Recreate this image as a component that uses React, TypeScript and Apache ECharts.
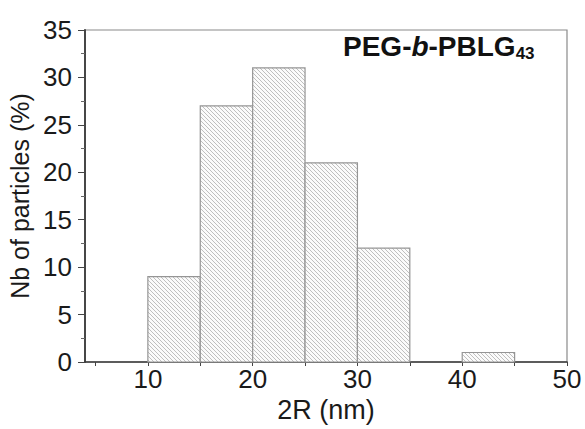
import React, { useEffect, useRef } from "react";
import * as echarts from "echarts";

const binStarts = [10, 15, 20, 25, 30, 40];
const binWidth = 5;
const percents = [9, 27, 31, 21, 12, 1];
const xTickValues = [10, 20, 30, 40, 50];
const xMinorValues = [5, 15, 25, 35, 45];

function makeHatch(): HTMLCanvasElement {
  const c = document.createElement("canvas");
  c.width = 4;
  c.height = 4;
  const ctx = c.getContext("2d")!;
  ctx.fillStyle = "#fbfbfb";
  ctx.fillRect(0, 0, 4, 4);
  ctx.strokeStyle = "#b8b8b8";
  ctx.lineWidth = 0.9;
  ctx.beginPath();
  ctx.moveTo(-1, -1);
  ctx.lineTo(5, 5);
  ctx.moveTo(-1, 3);
  ctx.lineTo(1, 5);
  ctx.moveTo(3, -1);
  ctx.lineTo(5, 1);
  ctx.stroke();
  return c;
}

export default function App() {
  const ref = useRef<HTMLDivElement>(null);
  useEffect(() => {
    const chart = echarts.init(ref.current!, undefined, { renderer: "svg" });
    const hatch = makeHatch();
    const pattern: any = { image: hatch, repeat: "repeat", imageWidth: 4, imageHeight: 4 };
    const data = binStarts.map((s, i) => [s, s + binWidth, percents[i]]);
    const font = "'Liberation Sans', Arial, sans-serif";
    chart.setOption({
      animation: false,
      backgroundColor: "#ffffff",
      grid: {
        left: 85,
        right: 18,
        top: 30,
        bottom: 67,
        outerBoundsMode: "none",
        containLabel: false,
        show: true,
        borderColor: "#8a8a8a",
        borderWidth: 1.2,
      },
      xAxis: {
        type: "value",
        min: 4,
        max: 50,
        name: "2R (nm)",
        nameLocation: "middle",
        nameGap: 33,
        nameTextStyle: { fontFamily: font, fontSize: 27, color: "#1a1a1a" },
        axisLine: { show: true, lineStyle: { color: "#3a3a3a", width: 1.6 } },
        axisTick: {
          show: true,
          length: 4,
          customValues: [...xMinorValues, ...xTickValues],
          lineStyle: { color: "#444" },
        },
        axisLabel: {
          customValues: xTickValues,
          fontFamily: font,
          fontSize: 26,
          color: "#1a1a1a",
          margin: 4,
        },
        splitLine: { show: false },
      },
      yAxis: {
        type: "value",
        min: 0,
        max: 35,
        interval: 5,
        name: "Nb of particles (%)",
        nameLocation: "middle",
        nameGap: 47,
        nameTextStyle: { fontFamily: font, fontSize: 25, color: "#1a1a1a" },
        axisLine: { show: true, lineStyle: { color: "#3a3a3a", width: 1.8 } },
        axisTick: { show: true, length: 7, lineStyle: { color: "#444" } },
        minorTick: { show: true, splitNumber: 2, length: 4, lineStyle: { color: "#666" } },
        axisLabel: { fontFamily: font, fontSize: 26, color: "#1a1a1a", margin: 13 },
        splitLine: { show: false },
      },
      series: [
        {
          type: "custom",
          data,
          encode: { x: [0, 1], y: 2 },
          renderItem: (params: any, api: any) => {
            const p0 = api.coord([api.value(0), api.value(2)]);
            const p1 = api.coord([api.value(1), 0]);
            return {
              type: "rect",
              shape: { x: p0[0], y: p0[1], width: p1[0] - p0[0], height: p1[1] - p0[1] },
              style: { fill: pattern, stroke: "#959595", lineWidth: 1.2 },
            };
          },
        },
      ],
      graphic: [
        {
          type: "text",
          left: 343,
          top: 32,
          style: {
            text: "{n|PEG-}{i|b}{n|-PBLG}{s|43}",
            rich: {
              n: { fontFamily: font, fontSize: 28, fontWeight: "bold", fill: "#111" },
              i: { fontFamily: font, fontSize: 28, fontWeight: "bold", fontStyle: "italic", fill: "#111" },
              s: { fontFamily: font, fontSize: 17, fontWeight: "bold", fill: "#111", padding: [14, 0, 0, 0] },
            },
          },
        },
      ],
    });
    return () => chart.dispose();
  }, []);
  return (
    <div
      ref={ref}
      style={{ position: "absolute", left: 0, top: 0, width: 585, height: 429 }}
    />
  );
}
